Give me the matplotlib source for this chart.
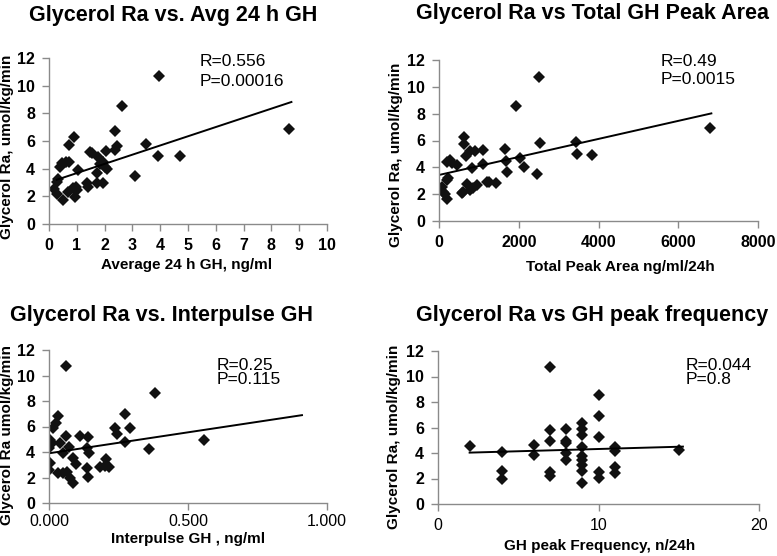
import matplotlib
matplotlib.use("Agg")
import matplotlib.pyplot as plt
from matplotlib.ticker import FormatStrFormatter

plt.rcParams["font.family"] = ["Liberation Sans", "DejaVu Sans"]

W, H = 777, 556

# Panel 1: Average 24 h GH
avg_gh = [0.19, 0.28, 0.34, 0.28, 0.40, 0.48, 0.60, 0.52, 0.70, 0.72, 0.72, 0.88, 0.91,
          0.94, 0.97, 1.06, 1.00, 1.36, 1.42, 1.47, 1.53, 1.72, 1.77, 1.74, 1.84, 1.96,
          1.96, 2.01, 2.04, 2.10, 2.37, 2.43, 2.38, 2.63, 3.10, 3.48, 3.92, 3.96, 4.72, 8.65]
avg_ra = [2.50, 2.17, 3.23, 3.06, 4.14, 4.39, 4.45, 1.73, 2.34, 4.50, 5.71, 2.58, 6.31,
          1.98, 2.70, 3.90, 2.45, 2.94, 2.70, 5.23, 5.10, 2.94, 4.82, 3.69, 4.34, 4.50,
          2.94, 4.14, 5.30, 4.00, 6.75, 5.64, 5.37, 8.55, 3.45, 5.80, 4.89, 10.67, 4.89, 6.87]
avg_fit_x = [0.28, 8.72]
avg_fit_y = [3.20, 8.82]

# Panel 2: Total peak area
area = [67, 108, 150, 209, 192, 234, 192, 276, 318, 443, 568, 610, 626, 626, 676, 710,
        776, 818, 776, 860, 944, 902, 1113, 1113, 1210, 1260, 1427, 1653, 1680, 1713,
        1939, 2032, 2132, 2447, 2530, 2513, 3432, 3449, 3825, 6806]
area_ra = [2.56, 2.19, 2.00, 1.61, 3.06, 3.18, 4.42, 4.55, 4.30, 4.17, 2.11, 2.19, 6.29,
           5.74, 4.84, 2.76, 2.31, 3.93, 5.22, 2.48, 2.68, 5.22, 5.30, 4.22, 2.93, 2.93,
           2.86, 5.34, 4.47, 3.68, 8.57, 4.72, 4.05, 3.50, 5.79, 10.76, 5.91, 4.97, 4.92, 6.91]
area_fit_x = [0, 6830]
area_fit_y = [3.43, 8.02]

# Panel 3: Interpulse GH
inter = [0.060, 0.382, 0.274, 0.238, 0.244, 0.292, 0.274, 0.360, 0.031, 0.024, 0.016,
         0.004, 0.010, 0.000, 0.040, 0.060, 0.072, 0.052, 0.112, 0.139, 0.135, 0.144,
         0.088, 0.096, 0.004, 0.000, 0.034, 0.052, 0.064, 0.076, 0.088, 0.135, 0.139,
         0.184, 0.204, 0.216, 0.200, 0.558]
inter_ra = [10.77, 8.65, 6.95, 5.86, 5.41, 5.86, 4.81, 4.21, 6.82, 6.30, 5.86, 4.94, 4.73,
            4.29, 4.68, 5.25, 4.42, 3.90, 5.25, 5.20, 4.29, 3.90, 3.50, 3.06, 3.11, 2.59,
            2.38, 2.33, 2.46, 1.93, 1.60, 2.72, 2.07, 2.85, 3.48, 2.80, 2.90, 4.93]
inter_fit_x = [0.0, 0.91]
inter_fit_y = [3.90, 6.89]

# Panel 4: GH peak frequency
freq = [2, 4, 4, 4, 6, 6, 7, 7, 7, 7, 7, 8, 8, 8, 8, 8, 9, 9, 9, 9, 9, 9, 9, 9, 9,
        10, 10, 10, 10, 10, 11, 11, 11, 11, 15]
freq_ra = [4.55, 4.05, 2.60, 1.93, 4.63, 3.84, 10.77, 5.80, 4.94, 2.54, 2.20, 5.88, 4.94,
           4.76, 4.03, 3.45, 6.33, 5.90, 5.41, 4.50, 3.79, 3.45, 3.06, 2.61, 1.67, 8.55,
           6.90, 5.28, 2.54, 2.01, 4.44, 4.18, 2.93, 2.40, 4.24]
freq_fit_x = [1.97, 15.26]
freq_fit_y = [4.03, 4.50]


def fx(px):
    return px / W


def fy(py):
    return 1 - py / H


fig = plt.figure(figsize=(W / 100, H / 100), dpi=100)
grey = "#8a8a8a"


def panel(box, x, y, fx_, fy_, xlim, xticks, xbold, xfmt=None, xpad=5):
    l, t, r, b = box
    ax = fig.add_axes([fx(l), fy(b), fx(r) - fx(l), fy(t) - fy(b)])
    ax.plot(x, y, "D", color="#111111", markersize=6.3, markeredgewidth=0)
    ax.plot(fx_, fy_, color="black", linewidth=1.4)
    ax.set_xlim(xlim)
    ax.set_ylim(0, 12)
    ax.set_xticks(xticks)
    ax.set_yticks(range(0, 13, 2))
    if xfmt:
        ax.xaxis.set_major_formatter(FormatStrFormatter(xfmt))
    for s in ["top", "right"]:
        ax.spines[s].set_visible(False)
    for s in ["left", "bottom"]:
        ax.spines[s].set_color(grey)
        ax.spines[s].set_linewidth(1.0)
    ax.tick_params(direction="out", length=5, width=1.0, color=grey, labelsize=11.5, pad=5)
    ax.tick_params(axis="x", pad=xpad)
    for lab in ax.get_yticklabels():
        lab.set_fontweight("bold")
    for lab in ax.get_xticklabels():
        lab.set_fontweight("bold" if xbold else "normal")
    ax.patch.set_alpha(0)
    return ax


panel((49, 58, 327, 224), avg_gh, avg_ra, avg_fit_x, avg_fit_y, (0, 10), range(0, 11), True)
panel((439, 60, 758, 221), area, area_ra, area_fit_x, area_fit_y, (0, 8000),
      range(0, 8001, 2000), True)
panel((49, 350, 327, 503), inter, inter_ra, inter_fit_x, inter_fit_y, (0, 1.0),
      [0, 0.5, 1.0], False, "%.3f", xpad=3)
panel((438, 351, 759, 504), freq, freq_ra, freq_fit_x, freq_fit_y, (0, 20),
      [0, 10, 20], False)

# titles
tkw = dict(fontsize=15.5, fontweight="bold", ha="center", va="center")
fig.text(fx(173), fy(16), "Glycerol Ra vs. Avg 24 h GH", **tkw)
fig.text(fx(592), fy(13), "Glycerol Ra vs Total GH Peak Area", **tkw)
fig.text(fx(162), fy(315), "Glycerol Ra vs. Interpulse GH", **tkw)
fig.text(fx(592), fy(316), "Glycerol Ra vs GH peak frequency", **tkw)

# axis labels
lkw = dict(fontsize=11, fontweight="bold", ha="center", va="center")
fig.text(fx(187), fy(265), "Average 24 h GH, ng/ml", **lkw)
fig.text(fx(620), fy(267), "Total Peak Area ng/ml/24h", **lkw)
fig.text(fx(188), fy(539), "Interpulse GH , ng/ml", **lkw)
fig.text(fx(600), fy(546), "GH peak Frequency, n/24h", **lkw)
fig.text(fx(7), fy(147), "Glycerol Ra, umol/kg/min", rotation=90, **lkw)
fig.text(fx(396), fy(155), "Glycerol Ra, umol/kg/min", rotation=90, **lkw)
fig.text(fx(7), fy(435), "Glycerol Ra umol/kg/min", rotation=90, **lkw)
fig.text(fx(394), fy(437), "Glycerol Ra, umol/kg/min", rotation=90, **lkw)

# statistics
skw = dict(fontsize=12.5, ha="left", va="center")
fig.text(fx(200), fy(62), "R=0.556", **skw)
fig.text(fx(200), fy(82), "P=0.00016", **skw)
fig.text(fx(661), fy(62), "R=0.49", **skw)
fig.text(fx(661), fy(79), "P=0.0015", **skw)
fig.text(fx(217), fy(365), "R=0.25", **skw)
fig.text(fx(217), fy(379), "P=0.115", **skw)
fig.text(fx(686), fy(366), "R=0.044", **skw)
fig.text(fx(686), fy(380), "P=0.8", **skw)

fig.savefig("out.png", dpi=100)
